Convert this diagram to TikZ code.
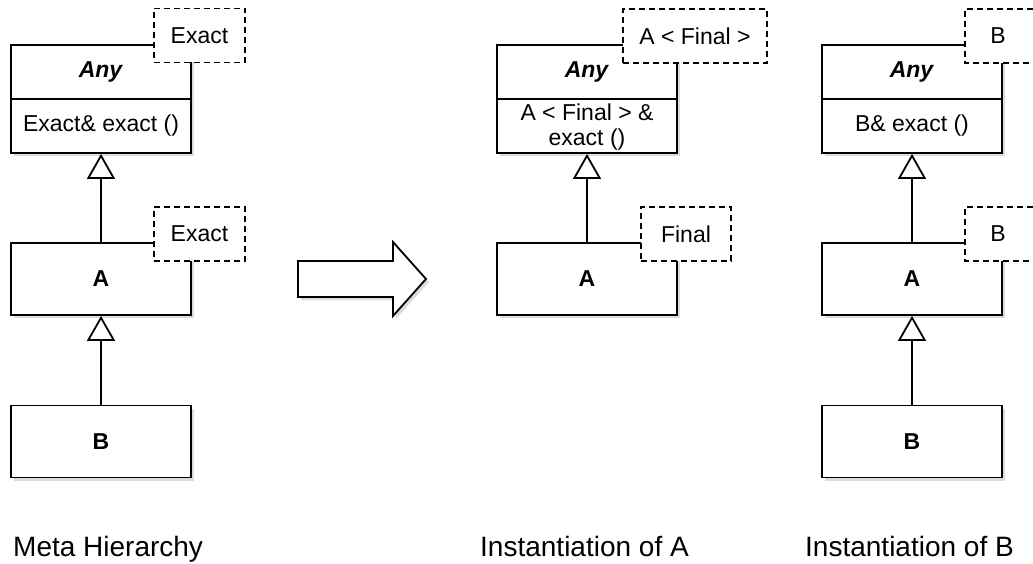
\documentclass[tikz,border=0pt]{standalone}
\usepackage{fontspec}
\setmainfont{Liberation Sans}
\usetikzlibrary{arrows.meta,shadows}
\begin{document}
\begin{tikzpicture}[x=1pt,y=-1pt,
  shad/.style={drop shadow={opacity=0.28,shadow xshift=3pt,shadow yshift=-3pt}},
  cls/.style={draw,line width=1.8pt,fill=white,minimum width=180pt,inner sep=0pt,shad,
    font=\fontsize{23}{25}\selectfont\bfseries},
  txt/.style={inner sep=0pt,font=\fontsize{23}{25}\selectfont,align=center},
  tmpl/.style={draw,dash pattern=on 6pt off 4pt,line width=1.5pt,fill=white,inner sep=0pt,
    minimum height=54pt,font=\fontsize{23}{25}\selectfont},
  inh/.style={line width=1.8pt,-{Triangle[open,length=25pt,width=28pt]}},
  lbl/.style={inner sep=0pt,anchor=base west,font=\fontsize{28}{33}\selectfont}
]
\useasboundingbox (0,0) rectangle (1033,564);

% ---------- Meta hierarchy ----------
\node[cls,minimum height=108pt] (any1) at (101,99) {};
\draw[line width=1.8pt] (any1.west) -- (any1.east);
\node[txt] (any1h) at (101,72) {\textbf{\textit{Any}}};
\node[txt] (any1b) at (101,126) {Exact\& exact ()};
\node[cls,minimum height=72pt] (a1) at (101,279) {A};
\node[cls,minimum height=72pt] (b1) at (101,441.5) {B};
\draw[inh] (a1.north) -- (any1.south);
\draw[inh] (b1.north) -- (a1.south);
\node[tmpl,minimum width=91pt] (t1) at (199.5,35.5) {Exact};
\node[tmpl,minimum width=91pt] (t2) at (199.5,234) {Exact};

% ---------- transformation arrow ----------
\draw[line width=1.8pt,fill=white,shad,line join=miter]
  (298,261) -- (393,261) -- (393,242) -- (426,279) -- (393,316) -- (393,297) -- (298,297) -- cycle;

% ---------- Instantiation of A ----------
\node[cls,minimum height=108pt] (any2) at (587,99) {};
\draw[line width=1.8pt] (any2.west) -- (any2.east);
\node[txt] (any2h) at (587,72) {\textbf{\textit{Any}}};
\node[txt] (any2b) at (587,127) {A < Final > \&\\exact ()};
\node[cls,minimum height=72pt] (a2) at (587,279) {A};
\draw[inh] (a2.north) -- (any2.south);
\node[tmpl,minimum width=144pt] (t3) at (695,36) {A < Final >};
\node[tmpl,minimum width=90pt] (t4) at (686,234) {Final};

% ---------- Instantiation of B ----------
\node[cls,minimum height=108pt] (any3) at (912,99) {};
\draw[line width=1.8pt] (any3.west) -- (any3.east);
\node[txt] (any3h) at (912,72) {\textbf{\textit{Any}}};
\node[txt] (any3b) at (912,126) {B\& exact ()};
\node[cls,minimum height=72pt] (a3) at (912,279) {A};
\node[cls,minimum height=72pt] (b3) at (912,441.5) {B};
\draw[inh] (a3.north) -- (any3.south);
\draw[inh] (b3.north) -- (a3.south);
\fill[white] (965,9) rectangle (1033,63);
\draw[dash pattern=on 6pt off 4pt,line width=1.5pt] (1033,9) -- (965,9) -- (965,63) -- (1033,63);
\node[txt] (t5) at (998,36) {B};
\fill[white] (965,207) rectangle (1033,261);
\draw[dash pattern=on 6pt off 4pt,line width=1.5pt] (1033,207) -- (965,207) -- (965,261) -- (1033,261);
\node[txt] (t6) at (998,234) {B};

% ---------- captions ----------
\node[lbl] (l1) at (13,556) {Meta Hierarchy};
\node[lbl] (l2) at (480,556) {Instantiation of A};
\node[lbl] (l3) at (805,556) {Instantiation of B};
\end{tikzpicture}
\end{document}
